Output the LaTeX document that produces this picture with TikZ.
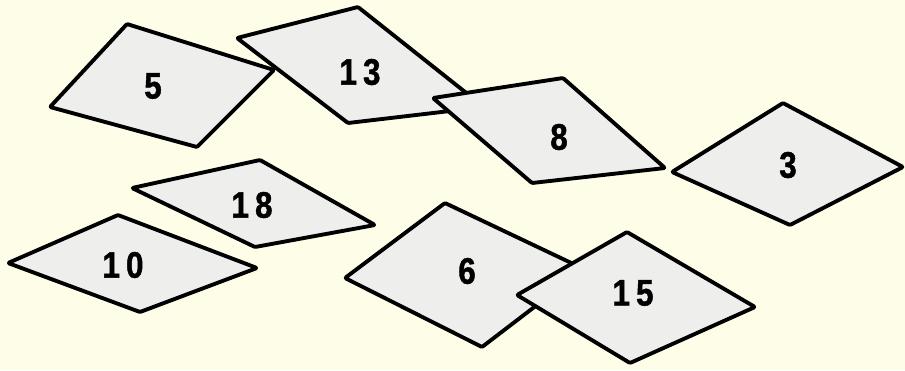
\documentclass[tikz,border=0pt]{standalone}
\usepackage{fontspec}
\setmainfont{Liberation Sans}
\newfontfamily\tilefont{Liberation Sans}[FakeStretch=0.85, FakeBold=1.2]
\usepackage{tikz}
\definecolor{bgCream}{RGB}{254,253,232}
\definecolor{tileGrey}{RGB}{238,238,236}
\begin{document}
\begin{tikzpicture}[
  x=0.02cm, y=-0.02cm,
  tile/.style={draw=black, fill=tileGrey, line width=2.2pt, line join=round, rounded corners=0.6pt},
  num/.style={font=\tilefont\fontsize{21}{21}\selectfont\bfseries, inner sep=0pt},
]
% background
\fill[bgCream] (0,0) rectangle (905,370);
\useasboundingbox (0,0) rectangle (905,370);
% upper row
\draw[tile] (50,107) -- (127,24) -- (274,70) -- (197,147) -- cycle;
\node[num] (n5) at (153,86) {5};
\draw[tile] (237,38) -- (358,7) -- (484,107) -- (348,123) -- cycle;
\node[num] (n13) at (360,72) {1\,3};
\draw[tile] (433,98) -- (563,78) -- (665,168) -- (532,183) -- cycle;
\node[num] (n8) at (559,137) {8};
\draw[tile] (672,172) -- (783,103) -- (903,167) -- (790,225) -- cycle;
\node[num] (n3) at (788,165) {3};
% middle and left
\draw[tile] (132,188) -- (260,160) -- (375,225) -- (255,247) -- cycle;
\node[num] (n18) at (252,205) {1\,8};
\draw[tile] (8,263) -- (118,215) -- (257,268) -- (140,312) -- cycle;
\node[num] (n10) at (123,265) {1\,0};
% lower pair
\draw[tile] (345,278) -- (445,203) -- (584,269) -- (482,347) -- cycle;
\node[num] (n6) at (467,271) {6};
\draw[tile] (517,295) -- (627,232) -- (755,307) -- (630,363) -- cycle;
\node[num] (n15) at (633,293) {1\,5};
\end{tikzpicture}
\end{document}
